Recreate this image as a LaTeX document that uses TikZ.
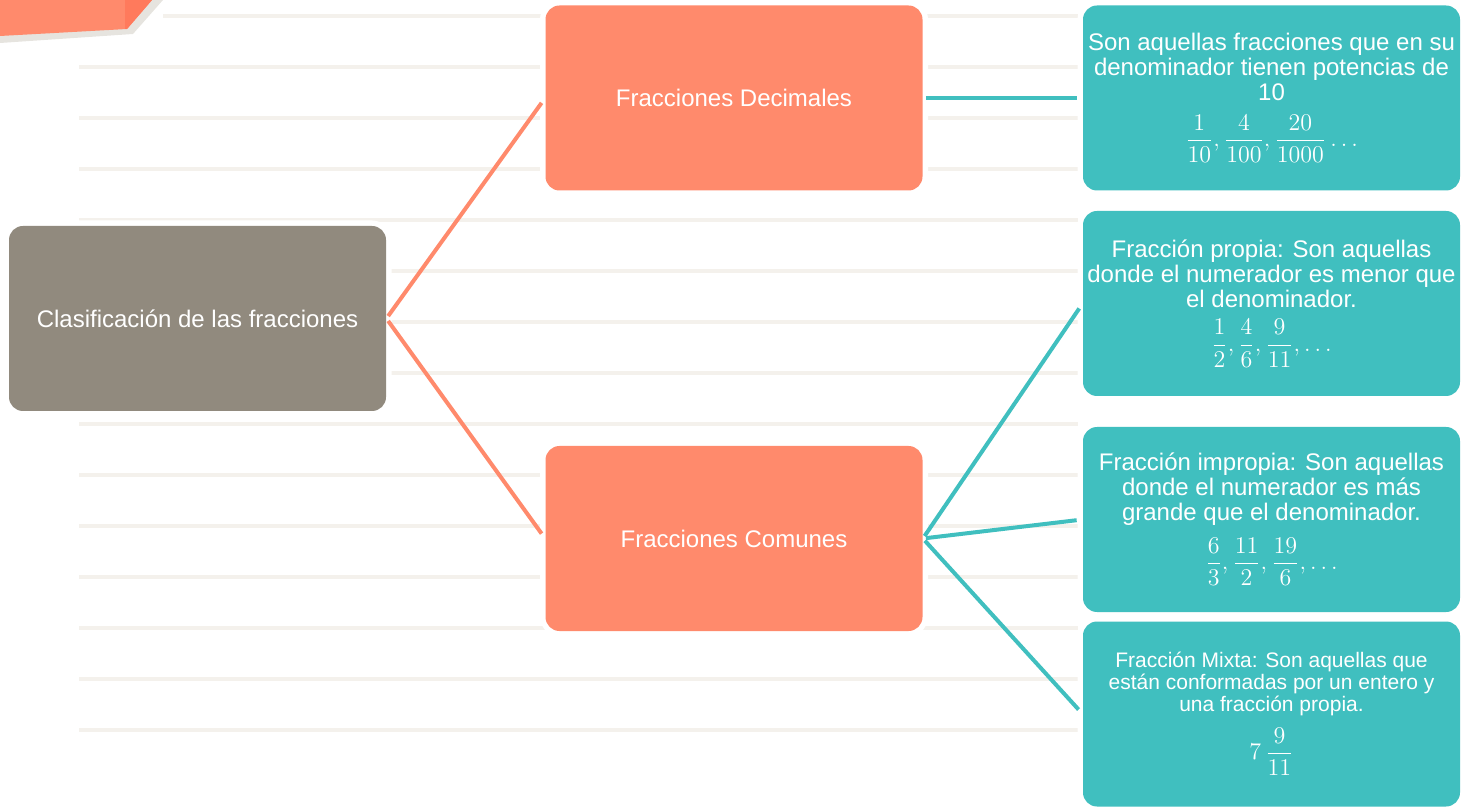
\documentclass[tikz,border=0pt]{standalone}
\usepackage{amsmath,amssymb}
\usepackage{fontspec}
\setmainfont{Liberation Sans}
\usepackage{tikz}
\usetikzlibrary{positioning}
\definecolor{boxgray}{HTML}{918A7E}
\definecolor{boxorange}{HTML}{FF8A6C}
\definecolor{boxteal}{HTML}{40BFBF}
\definecolor{paperline}{HTML}{F4F1EC}
\definecolor{cornerdark}{HTML}{FF7A5C}
\definecolor{cornershade}{HTML}{E6E4DF}
\tikzset{
	card/.style={rectangle, rounded corners=7pt, minimum width=188.5pt, minimum height=92.5pt, inner sep=2pt, align=center, text=white, font=\fontsize{12}{12.5}\selectfont, preaction={draw=white, line width=5.5pt}},
	link/.style={draw, line width=2pt, shorten <=1.5pt, shorten >=3pt}
}

\begin{document}
\begin{tikzpicture}[
		x=0.5pt, y=-0.5pt,
		rootbox/.style={card, fill=boxgray},
		branch/.style={card, fill=boxorange},
		leaf/.style={card, fill=boxteal},
		]
		\useasboundingbox (0,0) rectangle (1462,807);
		
		% Background - ruled paper lines
		\draw[paperline, line width=2pt] (163,16) -- (1078,16);
		\foreach \y in {67,118,...,730}
		\draw[paperline, line width=2pt] (79,\y) -- (1078,\y);
		
		% Top left corner tab
		\fill[cornershade] (0,0) -- (163,0) -- (133,34) -- (0,43) -- cycle;
		\fill[boxorange] (0,0) -- (152,0) -- (127,29) -- (0,36) -- cycle;
		\fill[cornerdark] (125,0) -- (152,0) -- (127,29) -- (125,29) -- cycle;
		
		% Left - main topic
		\node[rootbox] (root) at (197.5,318.5) {Clasificación de las fracciones};
		
		% Middle - two kinds of fractions
		\node[branch, right of=root, node distance=268.25pt, yshift=110.25pt] (decimales) {Fracciones Decimales};
		\node[branch, right of=root, node distance=268.25pt, yshift=-110pt] (comunes) {Fracciones Comunes};
		
		% Right - descriptions and examples
		\node[leaf, right of=decimales, node distance=268.75pt] (potencias) {Son aquellas fracciones que en su\\ denominador tienen potencias de\\ 10\\[6pt]
			$\dfrac{1}{10},\dfrac{4}{100},\dfrac{20}{1000}\ldots$};
		\node[leaf, right of=decimales, node distance=268.75pt, yshift=-102.75pt] (propia) {Fracción propia: Son aquellas\\ donde el numerador es menor que\\ el denominador.\\[5pt]
			$\dfrac{1}{2},\dfrac{4}{6},\dfrac{9}{11},\ldots$};
		\node[leaf, right of=comunes, node distance=268.75pt, yshift=9.5pt] (impropia) {Fracción impropia: Son aquellas\\ donde el numerador es más\\ grande que el denominador.\\[5pt]
			$\dfrac{6}{3},\dfrac{11}{2},\dfrac{19}{6},\ldots$};
		\node[leaf, right of=comunes, node distance=268.75pt, yshift=-87.75pt, font=\fontsize{10.5}{11}\selectfont] (mixta) {Fracción Mixta: Son aquellas que\\ están conformadas por un entero y\\ una fracción propia.\\[5pt]
			{\fontsize{12}{14}\selectfont $7\,\dfrac{9}{11}$}};
		
		% Connectors from main topic
		\draw[link, boxorange] (root.east) -- (decimales.west);
		\draw[link, boxorange] (root.east) -- (comunes.west);
		
		% Connectors to descriptions
		\draw[link, boxteal] (decimales.east) -- (potencias.west);
		\draw[link, boxteal] (comunes.east) -- (propia.west);
		\draw[link, boxteal] (comunes.east) -- (impropia.west);
		\draw[link, boxteal] (comunes.east) -- (mixta.west);
		
	\end{tikzpicture}
\end{document}
